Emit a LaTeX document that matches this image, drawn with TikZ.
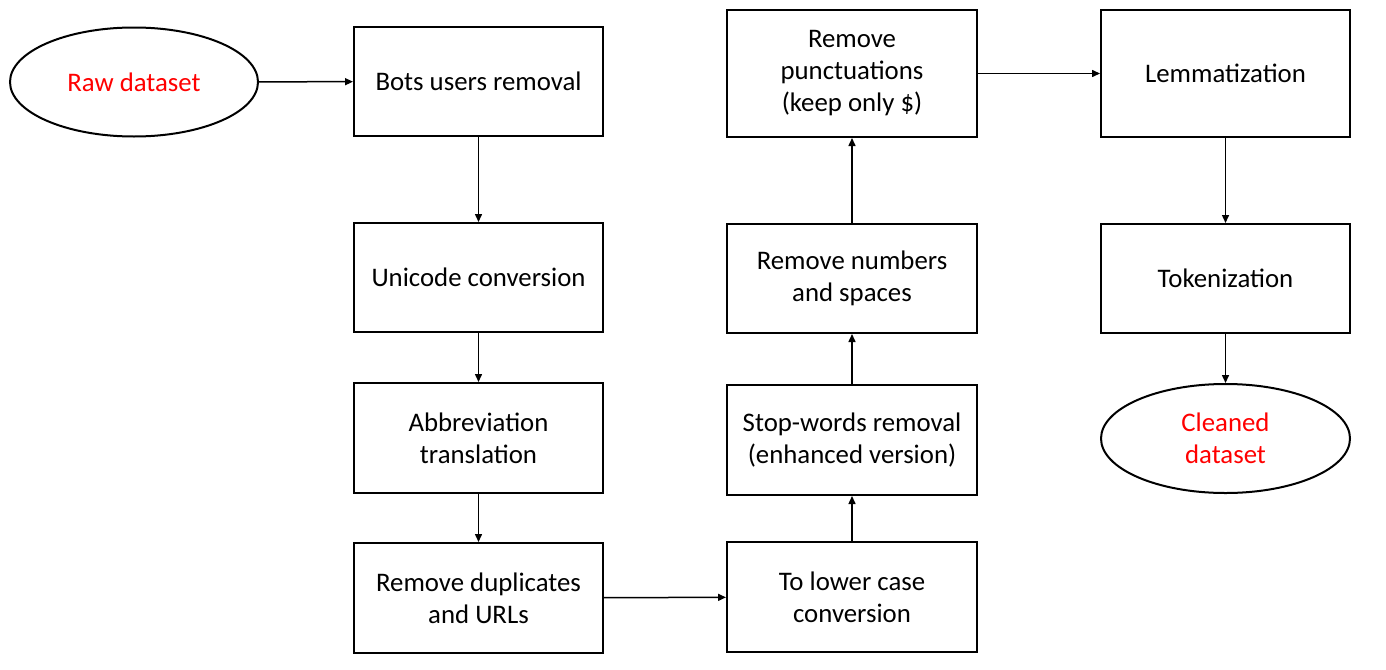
\documentclass[tikz,border=0pt]{standalone}
\usepackage{fontspec}
\setmainfont{Carlito}
\usetikzlibrary{shapes,arrows.meta,fit,positioning}
\definecolor{rawred}{rgb}{1,0,0}

\begin{document}
\begin{tikzpicture}[x=0.5pt,y=-0.5pt,% styles for all nodes and edges
			every node/.style={
				align=center,  		% "\\" breaks the line
				font=\fontsize{13.4}{16}\selectfont,
				line width=1pt
			},
			stepbox/.style={rectangle,draw=black,minimum width=124.5pt,minimum height=54.5pt,inner sep=0pt},
			endpoint/.style={ellipse,draw=black,minimum width=124pt,minimum height=54.5pt,inner sep=0pt,text=rawred},
			every edge/.style={draw,line width=0.75pt,-{Triangle[length=4pt,width=3.5pt]}}
		]
		\useasboundingbox (0,0) rectangle (1386,669);
		\node[endpoint](R1) at (134,82){Raw dataset};
		\node[stepbox](R2) at (478.5,81.5){Bots users removal};
		\node[stepbox](R3) at (478.5,277.5){Unicode conversion};
		\node[stepbox,minimum height=55pt](R4) at (478.5,438){Abbreviation\\translation};
		\node[stepbox,minimum height=55pt](R5) at (478.5,598){Remove duplicates\\and URLs};
		\node[stepbox,minimum width=125pt,minimum height=55pt](R6) at (852,597){To lower case\\conversion};
		\node[stepbox,minimum width=125pt,minimum height=55pt](R7) at (852,440){Stop-words removal\\(enhanced version)};
		\node[stepbox,minimum width=125pt](R8) at (852,278.5){Remove numbers\\and spaces};
		\node[stepbox,minimum width=125pt,minimum height=63.5pt](R9) at (852,73.5){Remove\\punctuations\\(keep only \$)};
		\node[stepbox,minimum height=63.5pt](R10) at (1225.5,73.5){Lemmatization};
		\node[stepbox](R11) at (1225.5,278.5){Tokenization};
		\node[endpoint,minimum width=124.5pt](R12) at (1225.5,438.5){Cleaned\\dataset};
		\path
		(R1)edge (R2)
		(R2)edge (R3)
		(R3)edge (R4)
		(R4)edge (R5)
		(R5)edge (R6)
		(R6)edge (R7)
		(R7)edge (R8)
		(R8)edge (R9)
		(R9)edge (R10)
		(R10)edge (R11)
		(R11)edge (R12)
		;
	\end{tikzpicture}
\end{document}
